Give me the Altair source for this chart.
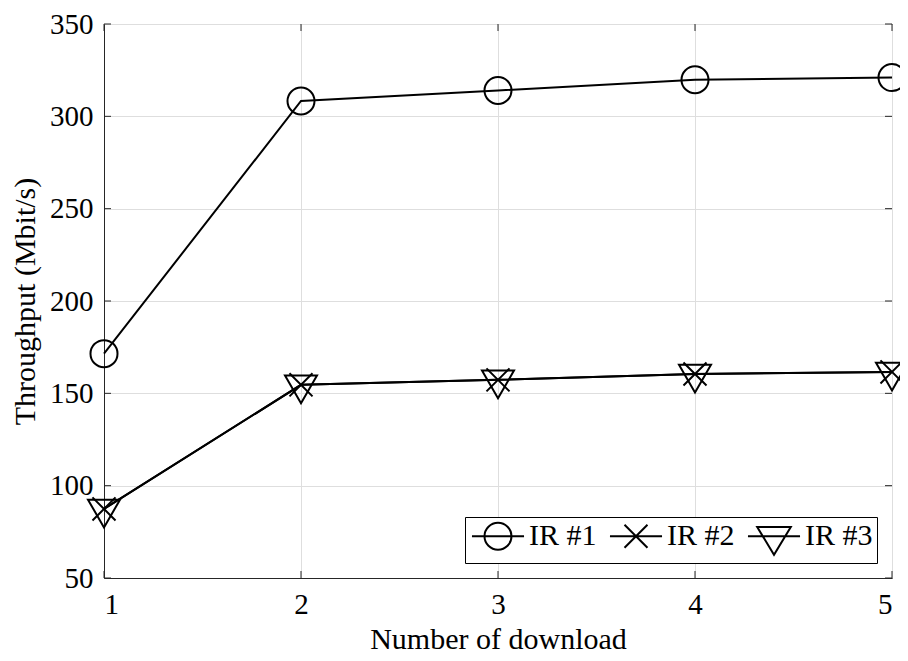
import altair as alt
import pandas as pd

# ---- data ----
downloads = [1, 2, 3, 4, 5]
ir1 = [171.5, 308.3, 314.0, 319.8, 321.0]
ir2 = [87.4, 154.6, 157.3, 160.5, 161.6]
ir3 = [87.4, 154.6, 157.3, 160.5, 161.6]
series_names = ["IR #1", "IR #2", "IR #3"]
y_ticks = [50, 100, 150, 200, 250, 300, 350]
x_ticks = [1, 2, 3, 4, 5]

rows = []
for name, vals in zip(series_names, [ir1, ir2, ir3]):
    for x, v in zip(downloads, vals):
        rows.append({"download": x, "throughput": v, "series": name})
df = pd.DataFrame(rows)

W, H = 788, 554
FONT = "Liberation Serif"
FS = 29
TFS = 30

# marker shapes (size 1024 -> unit = 16 px)
mark_paths = [
    "M0.844,0A0.844,0.844 0 1,1 -0.844,0A0.844,0.844 0 1,1 0.844,0Z",
    "M-0.72,-0.72L0.72,0.72M-0.72,0.72L0.72,-0.72",
    "M-1,-0.577L1,-0.577L0,1.155Z",
]
# legend shapes with a line through (size 784 -> unit = 14 px)
pad_pts = "M0,-1.32M0,1.32"
legend_paths = [
    pad_pts + "M-1.86,0L1.86,0M0.964,0A0.964,0.964 0 1,1 -0.964,0A0.964,0.964 0 1,1 0.964,0Z",
    pad_pts + "M-1.86,0L1.86,0M-0.82,-0.82L0.82,0.82M-0.82,0.82L0.82,-0.82",
    pad_pts + "M-1.86,0L1.86,0M-1.2,-0.66L1.2,-0.66L0,1.32Z",
]

xscale = alt.Scale(domain=[1, 5], nice=False, zero=False)
yscale = alt.Scale(domain=[50, 350], nice=False, zero=False)

x_enc = alt.X(
    "download:Q", scale=xscale,
    axis=alt.Axis(values=x_ticks, format="d", title="Number of download",
                  grid=True, ticks=False, labelPadding=12, titlePadding=5),
)
y_enc = alt.Y(
    "throughput:Q", scale=yscale,
    axis=alt.Axis(values=y_ticks, format="d", title="Throughput (Mbit/s)",
                  grid=True, ticks=False, labelPadding=11, titlePadding=9),
)

base = alt.Chart(df)

lines = base.mark_line(color="black", strokeWidth=2).encode(
    x=x_enc, y=y_enc, detail="series:N"
)

points = base.mark_point(filled=False, color="black", strokeWidth=2, size=1024, opacity=1).encode(
    x=alt.X("download:Q", scale=xscale),
    y=alt.Y("throughput:Q", scale=yscale),
    shape=alt.Shape("series:N", scale=alt.Scale(domain=series_names, range=mark_paths), legend=None),
)

legend_layer = base.transform_filter("datum.download < 0").mark_point(
    filled=False, color="black", strokeWidth=2, size=784, opacity=1
).encode(
    x=alt.X("download:Q", scale=xscale),
    y=alt.Y("throughput:Q", scale=yscale),
    shape=alt.Shape(
        "series:N",
        scale=alt.Scale(domain=series_names, range=legend_paths),
        legend=alt.Legend(
            title=None, orient="bottom-right", direction="horizontal",
            offset=15, symbolSize=784, symbolStrokeWidth=2, symbolStrokeColor="black",
            symbolFillColor="transparent", symbolOffset=14,
            labelFont=FONT, labelFontSize=TFS, labelColor="black", labelOffset=16,
            columnPadding=8, padding=4, strokeColor="black", fillColor="white",
            labelLimit=200,
        ),
    ),
)

# inward ticks on all four sides
ydf = pd.DataFrame({"v": y_ticks})
xdf = pd.DataFrame({"v": x_ticks})
tick_color = "#262626"
yt_left = alt.Chart(ydf).mark_rule(color=tick_color, strokeWidth=1).encode(
    y=alt.Y("v:Q", scale=yscale), x=alt.value(0), x2=alt.value(7))
yt_right = alt.Chart(ydf).mark_rule(color=tick_color, strokeWidth=1).encode(
    y=alt.Y("v:Q", scale=yscale), x=alt.value(W - 7), x2=alt.value(W))
xt_bottom = alt.Chart(xdf).mark_rule(color=tick_color, strokeWidth=1).encode(
    x=alt.X("v:Q", scale=xscale), y=alt.value(H - 7), y2=alt.value(H))
xt_top = alt.Chart(xdf).mark_rule(color=tick_color, strokeWidth=1).encode(
    x=alt.X("v:Q", scale=xscale), y=alt.value(0), y2=alt.value(7))

chart = alt.layer(lines, points, legend_layer, yt_left, yt_right, xt_bottom, xt_top).resolve_scale(
    shape="independent"
).properties(
    width=W, height=H,
    autosize=alt.AutoSizeParams(type="none"),
    padding={"left": 96, "top": 16, "right": 8, "bottom": 75},
    background="white",
).configure_view(
    stroke="#262626", strokeWidth=1
).configure_axis(
    labelFont=FONT, titleFont=FONT, labelFontSize=FS, titleFontSize=TFS,
    labelColor="black", titleColor="black", titleFontWeight="normal",
    gridColor="#dedede", gridWidth=1, domainColor="#262626", domainWidth=1,
)

chart.save("out.html", embed_options={"renderer": "svg", "actions": False})
